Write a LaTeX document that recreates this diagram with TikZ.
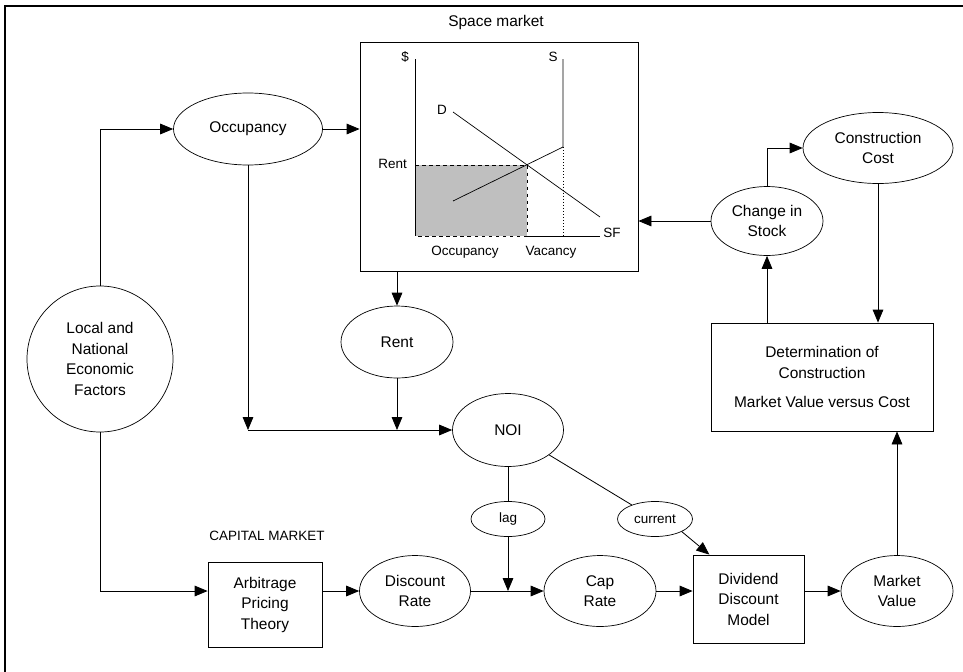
\documentclass[tikz,border=0pt]{standalone}
\usepackage{fontspec}
\setmainfont{Liberation Sans}
\usetikzlibrary{arrows.meta,shapes.geometric,calc}
\newcommand{\nodefont}{\fontsize{13.2}{17.5}\selectfont}
\newcommand{\chartfont}{\fontsize{11.5}{14}\selectfont}

\begin{document}
\begin{tikzpicture}[x=0.03cm, y=-0.03cm, line join=miter, font=\nodefont]
\tikzset{
    oval/.style 2 args={draw, ellipse, line width=0.6pt, inner sep=0pt, align=center,
        minimum width=#1*0.03cm, minimum height=#2*0.03cm},
    box/.style 2 args={draw, rectangle, line width=0.7pt, inner sep=0pt, align=center,
        minimum width=#1*0.03cm, minimum height=#2*0.03cm},
    arr/.style={line width=0.7pt, -{Triangle[length=3.9mm, width=3.2mm]}},
    link/.style={line width=0.7pt},
    chart/.style={line width=0.6pt},
    smalltext/.style={font=\chartfont}
}
\useasboundingbox (0,0) rectangle (963,671);
\draw[line width=1.7pt] (5,690) -- (5,6) -- (980,6);

% space market
\node at (496,23) {Space market};
\node[box={278}{229}] (spm) at (499,156.5) {};
\fill[black!25] (415,165) rectangle (527,236);
\draw[chart, dashed] (415,165) -- (527,165) -- (527,236) -- (415,236);
\draw[chart] (415,59) -- (415,236);
\draw[chart] (527,236) -- (600,236);
\draw[chart] (453,112) -- (600,217);
\draw[chart] (453,201) -- (563,147) -- (563,59);
\draw[chart, dotted] (563,147) -- (563,236);
\begin{scope}[smalltext]
\node at (405,57) {\$};
\node at (553,57) {S};
\node at (442,110) {D};
\node[anchor=east, inner sep=0pt] at (407,164) {Rent};
\node at (612,233) {SF};
\node at (465,252) {Occupancy};
\node at (551,252) {Vacancy};
\end{scope}

% nodes
\node[oval={149}{72}] (occ) at (248,129) {Occupancy};
\node[draw, circle, line width=0.6pt, inner sep=0pt, align=center,
    minimum size=146*0.03cm] (econ) at (100,359) {Local and\\National\\Economic\\Factors};
\node[oval={112}{72}] (rent) at (397,342) {Rent};
\node[oval={111}{73}] (noi) at (508,430) {NOI};
\node[oval={74}{35}, smalltext] (lag) at (508,519) {lag};
\node[oval={75}{35}, smalltext] (cur) at (655,519) {current};
\node[smalltext] at (267,536) {CAPITAL MARKET};
\node[box={114}{85}] (apt) at (265,604.5) {Arbitrage\\Pricing\\Theory};
\node[oval={111}{71}] (dr) at (415,591) {Discount\\Rate};
\node[oval={112}{71}] (cap) at (600,591) {Cap\\Rate};
\node[box={111}{88}] (ddm) at (748.5,599) {Dividend\\Discount\\Model};
\node[oval={112}{71}] (mv) at (897,591) {Market\\Value};
\node[box={222}{108}] (det) at (822,377) {Determination of\\Construction\\[7pt]Market Value versus Cost};
\node[oval={112}{69}] (chg) at (767,221) {Change in\\Stock};
\node[oval={150}{71}] (cost) at (878,148) {Construction\\Cost};

% connectors
\draw[arr] (econ.north) |- (occ.west);
\draw[arr] (occ.east) -- (occ.east -| spm.west);
\draw[arr] (spm.south -| rent) -- (rent.north);
\draw[arr] (occ.south) -- (occ.south |- noi.west);
\draw[arr] (occ.south |- noi.west) -- (noi.west);
\draw[arr] (rent.south) -- (rent.south |- noi.west);
\draw[link] (noi) -- (cur);
\draw[link] (noi.south) -- (lag.north);
\draw[arr] (lag.south) -- (lag.south |- cap.west);
\draw[arr] (cur.south east) -- ($(ddm.north west)!0.15!(ddm.north east)$);
\draw[arr] (econ.south) |- (apt.west |- dr);
\draw[arr] (apt.east |- dr) -- (dr.west);
\draw[arr] (dr) -- (cap);
\draw[arr] (cap.east) -- (cap.east -| ddm.west);
\draw[arr] (ddm.east |- mv) -- (mv.west);
\draw[arr] (mv.north) -- (mv.north |- det.south);
\draw[arr] (det.north -| chg) -- (chg.south);
\draw[arr] (chg.west) -- (chg.west -| spm.east);
\draw[arr] (chg.north) |- (cost.west);
\draw[arr] (cost.south) -- (cost.south |- det.north);
\end{tikzpicture}
\end{document}
